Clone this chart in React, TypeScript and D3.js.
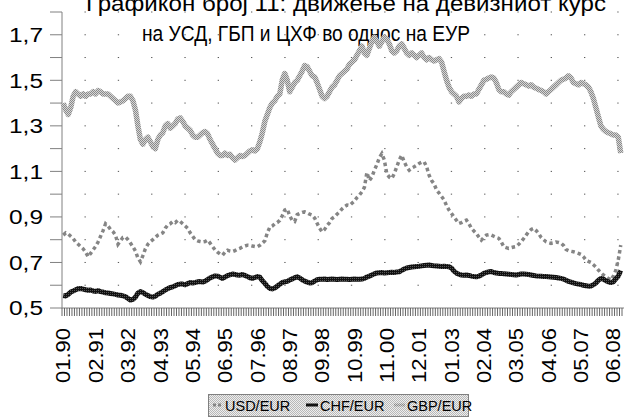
import * as d3 from "d3";

// monthly values, Jan 1990 .. Sep 2008
const usdEur = [
  0.82, 0.83, 0.825, 0.815, 0.805, 0.79, 0.78, 0.77, 0.76, 0.745,
  0.725, 0.74, 0.755, 0.77, 0.79, 0.815, 0.84, 0.87, 0.86, 0.845,
  0.835, 0.82, 0.78, 0.795, 0.81, 0.812, 0.8, 0.785, 0.769, 0.75,
  0.72, 0.703, 0.73, 0.76, 0.78, 0.791, 0.8, 0.81, 0.82, 0.825,
  0.83, 0.85, 0.865, 0.87, 0.88, 0.875, 0.885, 0.88, 0.87, 0.86,
  0.85, 0.83, 0.815, 0.8, 0.795, 0.792, 0.79, 0.792, 0.798, 0.785,
  0.77, 0.755, 0.745, 0.737, 0.732, 0.745, 0.754, 0.75, 0.748, 0.752,
  0.758, 0.762, 0.768, 0.772, 0.776, 0.775, 0.772, 0.77, 0.769, 0.775,
  0.785, 0.795, 0.83, 0.855, 0.86, 0.87, 0.875, 0.885, 0.905, 0.93,
  0.935, 0.905, 0.885, 0.88, 0.91, 0.915, 0.92, 0.922, 0.918, 0.912,
  0.908, 0.895, 0.872, 0.85, 0.835, 0.845, 0.862, 0.875, 0.893, 0.9,
  0.912, 0.922, 0.935, 0.945, 0.952, 0.95, 0.96, 0.97, 0.985, 0.996,
  1.01, 1.03, 1.095, 1.06, 1.075, 1.105, 1.13, 1.16, 1.178, 1.15,
  1.09, 1.075, 1.069, 1.09, 1.12, 1.15, 1.171, 1.142, 1.12, 1.105,
  1.115, 1.12, 1.127, 1.135, 1.14, 1.142, 1.12, 1.083, 1.06, 1.045,
  1.018, 1.005, 0.99, 0.975, 0.95, 0.93, 0.915, 0.9, 0.885, 0.871,
  0.875, 0.882, 0.886, 0.87, 0.85, 0.838, 0.827, 0.812, 0.798, 0.81,
  0.82, 0.822, 0.82, 0.815, 0.81, 0.806, 0.79, 0.769, 0.765, 0.762,
  0.765, 0.768, 0.77, 0.78, 0.791, 0.805, 0.82, 0.835, 0.845, 0.85,
  0.84, 0.827, 0.81, 0.8, 0.791, 0.787, 0.784, 0.786, 0.79, 0.788,
  0.785, 0.775, 0.757, 0.752, 0.749, 0.747, 0.744, 0.74, 0.735, 0.725,
  0.711, 0.705, 0.7, 0.69, 0.68, 0.667, 0.655, 0.645, 0.637, 0.63,
  0.623, 0.64, 0.665, 0.711, 0.776,
];

const chfEur = [
  0.555, 0.553, 0.56, 0.57, 0.575, 0.58, 0.585, 0.586, 0.583, 0.58,
  0.578, 0.579, 0.575, 0.573, 0.576, 0.572, 0.57, 0.567, 0.566, 0.564,
  0.562, 0.56, 0.557, 0.556, 0.553, 0.55, 0.542, 0.535, 0.538, 0.548,
  0.565, 0.572, 0.568, 0.56, 0.555, 0.55, 0.548, 0.552, 0.56, 0.565,
  0.572, 0.579, 0.585, 0.59, 0.593, 0.598, 0.603, 0.605, 0.605, 0.602,
  0.607, 0.612, 0.61, 0.612, 0.615, 0.616, 0.614, 0.618, 0.625, 0.632,
  0.637, 0.641, 0.64, 0.635, 0.63, 0.636, 0.642, 0.646, 0.649, 0.647,
  0.645, 0.644, 0.647, 0.643, 0.638, 0.633, 0.63, 0.634, 0.638, 0.635,
  0.62, 0.608, 0.595, 0.586, 0.584, 0.588, 0.596, 0.604, 0.612, 0.615,
  0.617, 0.623, 0.628, 0.633, 0.637, 0.632, 0.624, 0.618, 0.614, 0.61,
  0.611, 0.618, 0.624, 0.626, 0.626, 0.627, 0.625, 0.626, 0.627, 0.626,
  0.625, 0.626, 0.627, 0.626, 0.626, 0.625, 0.626, 0.627, 0.626, 0.626,
  0.627, 0.63, 0.636, 0.64, 0.645, 0.65, 0.654, 0.655, 0.656, 0.654,
  0.655, 0.656, 0.657, 0.656, 0.658, 0.659, 0.665, 0.671, 0.676, 0.678,
  0.68, 0.681, 0.682, 0.683, 0.685, 0.687, 0.688, 0.689, 0.687, 0.685,
  0.684, 0.683, 0.682, 0.683, 0.682, 0.681, 0.675, 0.662, 0.653, 0.648,
  0.645, 0.644, 0.645, 0.643, 0.64, 0.638, 0.637, 0.64, 0.645, 0.652,
  0.656, 0.659, 0.66, 0.656, 0.654, 0.652, 0.652, 0.65, 0.649, 0.648,
  0.647, 0.646, 0.645, 0.647, 0.649, 0.649, 0.648, 0.647, 0.645, 0.643,
  0.641, 0.64, 0.639, 0.638, 0.638, 0.637, 0.636, 0.635, 0.634, 0.632,
  0.63, 0.627, 0.622, 0.617, 0.614, 0.61, 0.607, 0.605, 0.603, 0.6,
  0.598, 0.596, 0.597, 0.602, 0.61, 0.622, 0.63, 0.627, 0.62, 0.615,
  0.612, 0.615, 0.628, 0.64, 0.665,
];

const gbpEur = [
  1.4, 1.37, 1.35, 1.38, 1.43, 1.45, 1.44, 1.43, 1.44, 1.43,
  1.44, 1.44, 1.45, 1.44, 1.455, 1.45, 1.44, 1.44, 1.44, 1.43,
  1.42, 1.41, 1.4, 1.405, 1.41, 1.42, 1.43, 1.43, 1.41, 1.37,
  1.3, 1.24, 1.22, 1.24, 1.25, 1.23, 1.21, 1.2, 1.24, 1.26,
  1.27, 1.3, 1.31, 1.29, 1.3, 1.31, 1.33, 1.335, 1.32, 1.3,
  1.29, 1.28, 1.26, 1.25, 1.25, 1.26, 1.27, 1.275, 1.265, 1.24,
  1.22, 1.2, 1.18, 1.17, 1.17, 1.18, 1.17, 1.175, 1.16, 1.15,
  1.16, 1.17, 1.165, 1.17, 1.18, 1.19, 1.195, 1.19, 1.2, 1.23,
  1.27, 1.32, 1.35, 1.38, 1.4, 1.41, 1.43, 1.44, 1.5, 1.53,
  1.5, 1.45, 1.47, 1.49, 1.5, 1.52, 1.54, 1.565, 1.56, 1.54,
  1.52, 1.515, 1.49, 1.46, 1.43, 1.42, 1.43, 1.45, 1.47, 1.48,
  1.5, 1.52, 1.53, 1.54, 1.55, 1.57, 1.58, 1.59, 1.61, 1.63,
  1.65, 1.62, 1.61, 1.64, 1.67, 1.69, 1.67, 1.65, 1.67, 1.69,
  1.68, 1.66, 1.63, 1.62, 1.63, 1.65, 1.66, 1.64, 1.62, 1.61,
  1.62, 1.61, 1.6, 1.61, 1.62, 1.6, 1.59, 1.6, 1.59, 1.585,
  1.59, 1.595, 1.58, 1.54, 1.5, 1.47, 1.45, 1.44, 1.43, 1.405,
  1.42, 1.43, 1.43, 1.435, 1.43, 1.44, 1.44, 1.46, 1.48, 1.5,
  1.505, 1.51, 1.515, 1.51, 1.49, 1.46, 1.45, 1.45, 1.44, 1.435,
  1.45, 1.46, 1.47, 1.48, 1.49, 1.485, 1.48, 1.475, 1.48, 1.47,
  1.465, 1.46, 1.455, 1.45, 1.44, 1.45, 1.46, 1.47, 1.48, 1.49,
  1.5, 1.505, 1.51, 1.52, 1.51, 1.49, 1.485, 1.48, 1.49, 1.485,
  1.48, 1.47, 1.45, 1.42, 1.38, 1.34, 1.3, 1.285, 1.275, 1.27,
  1.265, 1.26, 1.26, 1.25, 1.18,
];

const xLabels = [
  "01.90", "02.91", "03.92", "04.93", "05.94", "06.95", "07.96", "08.97", "09.98",
  "10.99", "11.00", "12.01", "01.03", "02.04", "03.05", "04.06", "05.07", "06.08",
];
const yLabels = [0.5, 0.7, 0.9, 1.1, 1.3, 1.5, 1.7];
const titleLines = [
  "Графикон број 11: движење на девизниот курс",
  "на УСД, ГБП и ЦХФ во однос на ЕУР",
];

// category keys mm.yy for every month
const months = usdEur.map((_, i) => {
  const m = (i % 12) + 1;
  const yy = (1990 + Math.floor(i / 12)) % 100;
  return `${String(m).padStart(2, "0")}.${String(yy).padStart(2, "0")}`;
});

const W = 624;
const H = 417;
const FONT = "'Liberation Sans', Arial, sans-serif";

export default function App() {
  const x = d3.scaleBand().domain(months).range([62, 622]);
  const y = d3.scaleLinear().domain([0.5, 1.8]).range([308, 12]);
  const cx = (i) => x(months[i]) + x.bandwidth() / 2;

  const line = d3
    .line()
    .x((d, i) => cx(i))
    .y((d) => y(d));

  const yTicks = d3.range(5, 19).map((v) => v / 10);
  const fmt = (v) => d3.format(".1f")(v).replace(".", ",");

  return (
    <svg
      width={W}
      height={H}
      style={{ position: "absolute", left: 0, top: 0, background: "#fff" }}
      fontFamily={FONT}
    >
      <defs>
        <pattern id="lightDots" width="2" height="2" patternUnits="userSpaceOnUse">
          <rect width="2" height="2" fill="#d6d6d6" />
          <rect width="1" height="1" fill="#8a8a8a" />
          <rect x="1" y="1" width="1" height="1" fill="#8a8a8a" />
        </pattern>
        <pattern id="darkDots" width="2" height="2" patternUnits="userSpaceOnUse">
          <rect width="2" height="2" fill="#111" />
          <rect width="1" height="1" fill="#555" />
        </pattern>
        <pattern id="legendBg" width="2" height="2" patternUnits="userSpaceOnUse">
          <rect width="2" height="2" fill="#eeeeee" />
          <rect width="1" height="1" fill="#b8b8b8" />
          <rect x="1" y="1" width="1" height="1" fill="#b8b8b8" />
        </pattern>
      </defs>

      {/* title */}
      <text x={86} y={11} fontSize={22} textLength={520} lengthAdjust="spacingAndGlyphs">
        {titleLines[0]}
      </text>
      <text x={142} y={41} fontSize={22} textLength={328} lengthAdjust="spacingAndGlyphs">
        {titleLines[1]}
      </text>

      {/* dotted grid */}
      {yTicks.slice(1).map((v) => (
        <line
          key={"g" + v}
          x1={84.5}
          x2={622}
          y1={y(v)}
          y2={y(v)}
          stroke="#555"
          strokeWidth={1}
          strokeDasharray="1.3 32"
        />
      ))}

      {/* y axis */}
      <line x1={62} x2={62} y1={y(1.8)} y2={y(0.5)} stroke="#808080" />
      {yTicks.map((v) => (
        <line key={"t" + v} x1={50} x2={62} y1={y(v)} y2={y(v)} stroke="#808080" />
      ))}
      {yLabels.map((v) => (
        <text
          key={"l" + v}
          x={43}
          y={y(v)}
          dy="0.36em"
          fontSize={20}
          textAnchor="end"
          textLength={34}
          lengthAdjust="spacingAndGlyphs"
        >
          {fmt(v)}
        </text>
      ))}

      {/* x axis */}
      <line x1={62} x2={624} y1={y(0.5)} y2={y(0.5)} stroke="#808080" />
      {months.concat([null]).map((m, i) => {
        const px = i < months.length ? x(m) : x.range()[1];
        return (
          <line
            key={"xt" + i}
            x1={px}
            x2={px}
            y1={y(0.5)}
            y2={y(0.5) + 8}
            stroke="#555"
            strokeWidth={0.9}
          />
        );
      })}
      {xLabels.map((lab) => {
        const px = x(lab) + x.bandwidth() / 2;
        return (
          <text
            key={"xl" + lab}
            transform={`translate(${px},328) rotate(-90)`}
            dy="0.36em"
            fontSize={20}
            textAnchor="end"
            textLength={55}
            lengthAdjust="spacingAndGlyphs"
          >
            {lab}
          </text>
        );
      })}

      {/* series */}
      <path d={line(gbpEur)} fill="none" stroke="url(#lightDots)" strokeWidth={5.5} strokeLinejoin="round" />
      <path
        d={line(usdEur)}
        fill="none"
        stroke="#858585"
        strokeWidth={3.5}
        strokeDasharray="3.5 3"
      />
      <path d={line(chfEur)} fill="none" stroke="url(#darkDots)" strokeWidth={5} strokeLinejoin="round" />

      {/* legend */}
      <rect x={208.5} y={394.5} width={260} height={22} fill="url(#legendBg)" stroke="#808080" />
      <line x1={213} x2={223} y1={405} y2={405} stroke="#858585" strokeWidth={3} strokeDasharray="3 2" />
      <text x={225} y={410.5} fontSize={14.5}>USD/EUR</text>
      <line x1={306} x2={318} y1={405} y2={405} stroke="#111" strokeWidth={3} />
      <text x={320} y={410.5} fontSize={14.5}>CHF/EUR</text>
      <line x1={394} x2={405} y1={405} y2={405} stroke="url(#lightDots)" strokeWidth={3} />
      <text x={407} y={410.5} fontSize={14.5}>GBP/EUR</text>
    </svg>
  );
}
